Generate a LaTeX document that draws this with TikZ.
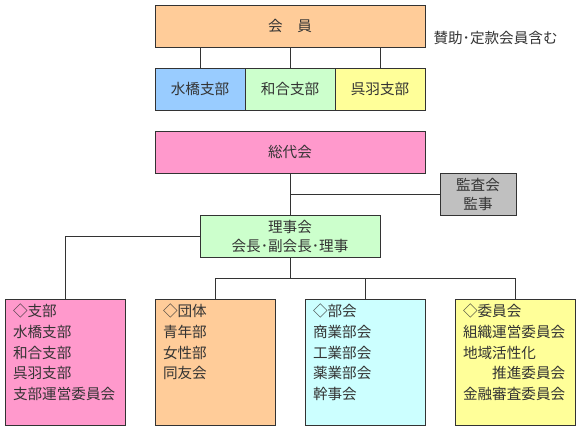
\documentclass[tikz,border=0pt]{standalone}
\usepackage{fontspec}
\setmainfont{Noto Sans CJK JP}
\definecolor{ln}{HTML}{333333}
\definecolor{txt}{HTML}{333333}
\definecolor{orangec}{HTML}{FFCC99}
\definecolor{bluec}{HTML}{99CCFF}
\definecolor{greenc}{HTML}{CCFFCC}
\definecolor{yellowc}{HTML}{FFFF99}
\definecolor{pinkc}{HTML}{FF99CC}
\definecolor{grayc}{HTML}{C0C0C0}
\definecolor{cyanc}{HTML}{CCFFFF}
\newcommand\listtext[1]{\parbox[t][116pt][t]{104pt}{\fontsize{14.6}{20.7}\selectfont #1}}
\begin{document}
\begin{tikzpicture}[x=1pt,y=-1pt,line width=1pt,
  every node/.style={font=\fontsize{14.6}{19}\selectfont,text=txt,inner sep=0pt},
  box/.style={draw=ln,minimum height=42pt},
  listbox/.style={draw=ln,minimum width=120pt,minimum height=126pt,inner xsep=8pt,inner ysep=5pt}]
\useasboundingbox (0,0) rectangle (581,431);
% members
\node[box,fill=orangec,minimum width=270pt] (kaiin) at (290,26) {会　員};
\node[box,fill=bluec,minimum width=90pt] (mizu) at (200,89) {水橋支部};
\node[box,fill=greenc,minimum width=90pt] (wago) at (290,89) {和合支部};
\node[box,fill=yellowc,minimum width=90pt] (kureha) at (380,89) {呉羽支部};
\node[anchor=west] (note) at (433,38) {賛助･定款会員含む};
% assembly and board
\node[box,fill=pinkc,minimum width=270pt] (soudai) at (290,152) {総代会};
\node[box,fill=grayc,minimum width=76pt,align=center] (kansa) at (478,194) {監査会\\監事};
\node[box,fill=greenc,minimum width=180pt,align=center] (riji) at (290,236) {理事会\\会長･副会長･理事};
% groups
\node[listbox,fill=pinkc] (shibu) at (65,362) {\listtext{◇支部\\水橋支部\\和合支部\\呉羽支部\\支部運営委員会}};
\node[listbox,fill=orangec] (dantai) at (215,362) {\listtext{◇団体\\青年部\\女性部\\同友会}};
\node[listbox,fill=cyanc] (bukai) at (365,362) {\listtext{◇部会\\商業部会\\工業部会\\薬業部会\\幹事会}};
\node[listbox,fill=yellowc] (iinkai) at (515,362) {\listtext{◇委員会\\組織運営委員会\\地域活性化\\　　推進委員会\\金融審査委員会}};
\coordinate (jct) at (290,278);
\foreach \b in {mizu,wago,kureha}
  \draw[ln] (\b.north) -- (\b.north |- kaiin.south);
\draw[ln] (soudai) -- (riji);
\draw[ln] (kansa.west) -- (kansa.west -| soudai.south);
\draw[ln] (riji.west) -| (shibu.north);
\draw[ln] (riji) -- (jct);
\draw[ln] (jct -| dantai.north) -- (jct -| iinkai.north);
\foreach \b in {dantai,bukai,iinkai}
  \draw[ln] (\b.north) -- (\b.north |- jct);
\end{tikzpicture}
\end{document}
